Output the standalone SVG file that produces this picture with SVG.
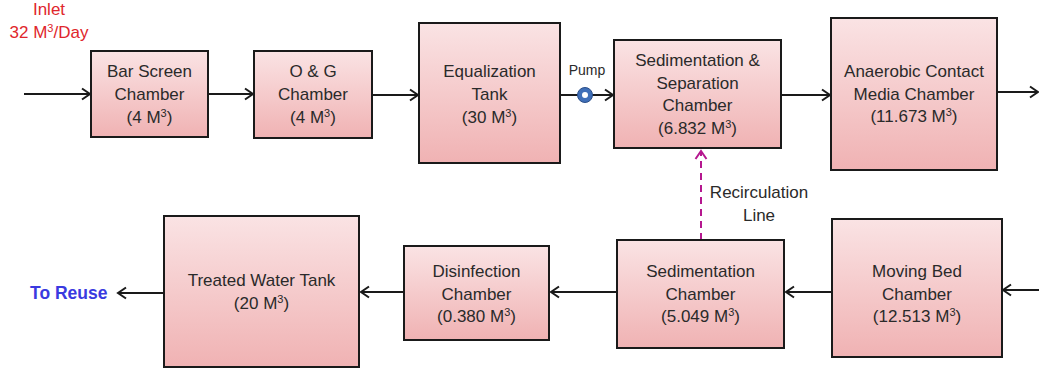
<svg xmlns="http://www.w3.org/2000/svg" width="1039" height="374" viewBox="0 0 1039 374">
  <defs>
    <linearGradient id="boxFill" x1="0" y1="0" x2="0" y2="1">
      <stop offset="0" stop-color="#fae3e4"/>
      <stop offset="1" stop-color="#f0b2b3"/>
    </linearGradient>
    <marker id="arrow" markerUnits="userSpaceOnUse" markerWidth="14" markerHeight="14" refX="11" refY="7" orient="auto">
      <path d="M3,1.5 L11,7 L3,12.5" fill="none" stroke="#1a1a1a" stroke-width="2"/>
    </marker>
    <marker id="arrowDash" markerUnits="userSpaceOnUse" markerWidth="14" markerHeight="14" refX="11" refY="7" orient="auto">
      <path d="M3,1.5 L11,7 L3,12.5" fill="none" stroke="#b5178f" stroke-width="2"/>
    </marker>
  </defs>
  <style>
    .box { fill: url(#boxFill); stroke: #1a1a1a; stroke-width: 2; }
    .lbl { font-family: "Liberation Sans", Arial, sans-serif; font-size: 17px; fill: #2a2a2a; text-anchor: middle; }
    .sup { font-size: 11px; }
    .flow { stroke: #1a1a1a; stroke-width: 2; fill: none; marker-end: url(#arrow); }
    .recirc { stroke: #b5178f; stroke-width: 2; fill: none; stroke-dasharray: 7 5; marker-end: url(#arrowDash); }
    .inlet { font-family: "Liberation Sans", Arial, sans-serif; font-size: 17px; fill: #e0262c; text-anchor: middle; }
    .reuse { font-family: "Liberation Sans", Arial, sans-serif; font-size: 17.5px; font-weight: bold; fill: #3a3ae0; }
    .small { font-family: "Liberation Sans", Arial, sans-serif; font-size: 14px; fill: #2a2a2a; text-anchor: middle; }
  </style>

  <!-- connectors -->
  <g id="connectors">
    <line class="flow" x1="24" y1="94" x2="90" y2="94"/>
    <line class="flow" x1="208" y1="94" x2="253" y2="94"/>
    <line class="flow" x1="372" y1="95" x2="418" y2="95"/>
    <line class="flow" x1="560" y1="95" x2="613" y2="95"/>
    <line class="flow" x1="781" y1="95" x2="830" y2="95"/>
    <line class="flow" x1="997" y1="92" x2="1038" y2="92"/>
    <line class="flow" x1="1039" y1="290" x2="1003" y2="290"/>
    <line class="flow" x1="832" y1="292" x2="786" y2="292"/>
    <line class="flow" x1="617" y1="292" x2="551" y2="292"/>
    <line class="flow" x1="404" y1="292" x2="361" y2="292"/>
    <line class="flow" x1="163" y1="293" x2="118" y2="293"/>
    <line class="recirc" x1="701" y1="240" x2="701" y2="151"/>
  </g>

  <!-- pump symbol on the feed line -->
  <g id="pump">
    <circle cx="585" cy="95" r="7.5" fill="#3f6fb8" stroke="#2b4f8a" stroke-width="1"/>
    <circle cx="585" cy="95" r="3" fill="#ffffff"/>
    <text class="small" x="587" y="75">Pump</text>
  </g>

  <!-- annotations -->
  <g id="inlet">
    <text class="inlet" x="49" y="15">Inlet</text>
    <text class="inlet" x="49" y="38">32 M<tspan class="sup" dy="-6">3</tspan><tspan dy="6">/Day</tspan></text>
  </g>
  <g id="reuse">
    <text class="reuse" x="30" y="299">To Reuse</text>
  </g>
  <g id="recirc-label">
    <text class="lbl" x="759" y="198">Recirculation</text>
    <text class="lbl" x="759" y="221">Line</text>
  </g>

  <!-- process units -->
  <g id="bar-screen">
    <rect class="box" x="91" y="51" width="117" height="86"/>
    <text class="lbl" x="149.5" y="77">Bar Screen</text>
    <text class="lbl" x="149.5" y="100">Chamber</text>
    <text class="lbl" x="149.5" y="123">(4 M<tspan class="sup" dy="-6">3</tspan><tspan dy="6">)</tspan></text>
  </g>

  <g id="og-chamber">
    <rect class="box" x="254" y="51" width="118" height="87"/>
    <text class="lbl" x="313" y="77">O &amp; G</text>
    <text class="lbl" x="313" y="100">Chamber</text>
    <text class="lbl" x="313" y="123">(4 M<tspan class="sup" dy="-6">3</tspan><tspan dy="6">)</tspan></text>
  </g>

  <g id="equalization">
    <rect class="box" x="419" y="23" width="141" height="140"/>
    <text class="lbl" x="489.5" y="77">Equalization</text>
    <text class="lbl" x="489.5" y="100">Tank</text>
    <text class="lbl" x="489.5" y="123">(30 M<tspan class="sup" dy="-6">3</tspan><tspan dy="6">)</tspan></text>
  </g>

  <g id="sed-separation">
    <rect class="box" x="614" y="40" width="167" height="108"/>
    <text class="lbl" x="697.5" y="66">Sedimentation &amp;</text>
    <text class="lbl" x="697.5" y="89">Separation</text>
    <text class="lbl" x="697.5" y="111">Chamber</text>
    <text class="lbl" x="697.5" y="134">(6.832 M<tspan class="sup" dy="-6">3</tspan><tspan dy="6">)</tspan></text>
  </g>

  <g id="anaerobic">
    <rect class="box" x="831" y="18" width="166" height="152"/>
    <text class="lbl" x="914" y="77">Anaerobic Contact</text>
    <text class="lbl" x="914" y="100">Media Chamber</text>
    <text class="lbl" x="914" y="122">(11.673 M<tspan class="sup" dy="-6">3</tspan><tspan dy="6">)</tspan></text>
  </g>

  <g id="moving-bed">
    <rect class="box" x="832" y="219" width="170" height="138"/>
    <text class="lbl" x="917" y="277">Moving Bed</text>
    <text class="lbl" x="917" y="300">Chamber</text>
    <text class="lbl" x="917" y="322">(12.513 M<tspan class="sup" dy="-6">3</tspan><tspan dy="6">)</tspan></text>
  </g>

  <g id="sedimentation">
    <rect class="box" x="617" y="240" width="167" height="108"/>
    <text class="lbl" x="700.5" y="277">Sedimentation</text>
    <text class="lbl" x="700.5" y="300">Chamber</text>
    <text class="lbl" x="700.5" y="322">(5.049 M<tspan class="sup" dy="-6">3</tspan><tspan dy="6">)</tspan></text>
  </g>

  <g id="disinfection">
    <rect class="box" x="404" y="246" width="145" height="94"/>
    <text class="lbl" x="476.5" y="277">Disinfection</text>
    <text class="lbl" x="476.5" y="300">Chamber</text>
    <text class="lbl" x="476.5" y="322">(0.380 M<tspan class="sup" dy="-6">3</tspan><tspan dy="6">)</tspan></text>
  </g>

  <g id="treated-water">
    <rect class="box" x="164" y="216" width="195" height="151"/>
    <text class="lbl" x="261.5" y="286">Treated Water Tank</text>
    <text class="lbl" x="261.5" y="309">(20 M<tspan class="sup" dy="-6">3</tspan><tspan dy="6">)</tspan></text>
  </g>
</svg>
